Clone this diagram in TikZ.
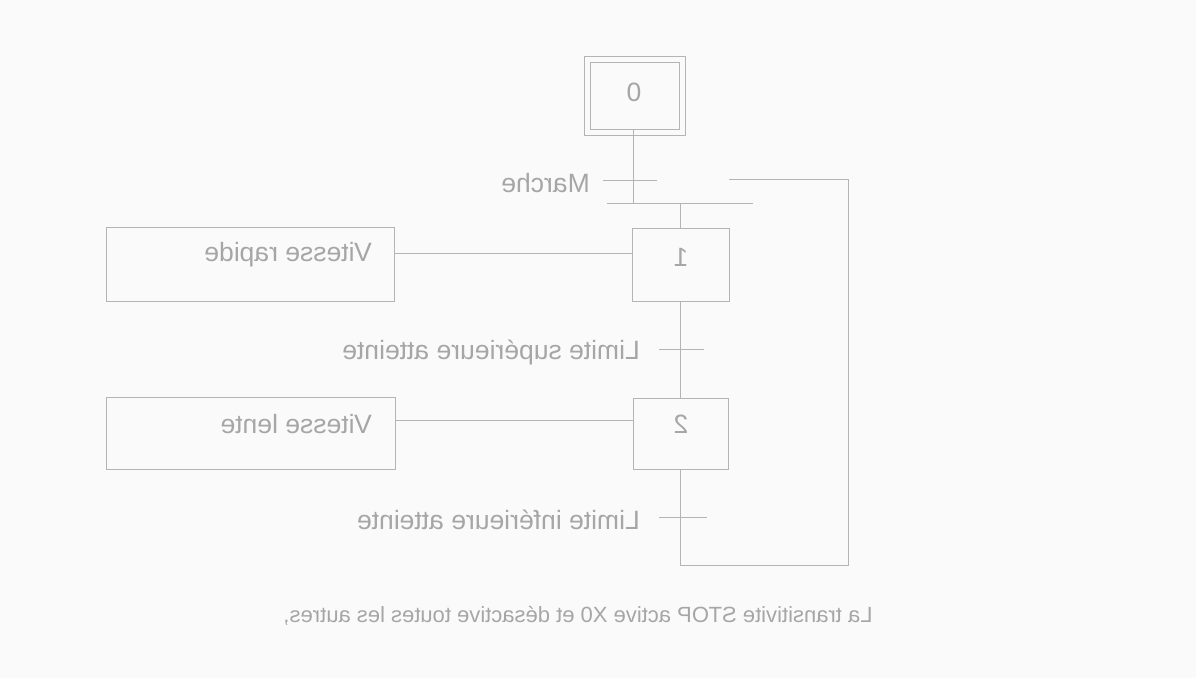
\documentclass[tikz,border=0pt]{standalone}
\usepackage{fontspec}
\setmainfont{Liberation Sans}
\definecolor{ln}{HTML}{B4B4B4}
\definecolor{tx}{HTML}{A6A6A6}
\definecolor{bg}{HTML}{FAFAFA}
\begin{document}
\begin{tikzpicture}[x=1bp,y=-1bp,
  box/.style={draw=ln,line width=1bp,inner sep=0pt,minimum width=#1},
  lbl/.style={text=tx,inner sep=0pt,font=\fontsize{26.5bp}{30bp}\selectfont},
  wire/.style={draw=ln,line width=1bp}]
\fill[bg] (0,0) rectangle (1196,678);
\useasboundingbox (0,0) rectangle (1196,678);
% steps
\node[box=101bp,minimum height=79bp] (s0) at (634.5,96.5) {};
\node[box=89bp,minimum height=67bp] (s0in) at (634.5,96.5) {};
\node[lbl] (n0) at (634,92) {\reflectbox{0}};
\node[box=97bp,minimum height=72bp] (s1) at (680.5,265) {};
\node[lbl] (n1) at (681,257) {\reflectbox{1}};
\node[box=95bp,minimum height=71bp] (s2) at (680.5,433.5) {};
\node[lbl] (n2) at (681,424) {\reflectbox{2}};
% actions
\node[box=287bp,minimum height=73bp] (a1) at (250.5,264.5) {};
\node[lbl,anchor=east] (a1t) at (372,255) {\reflectbox{Vitesse rapide}};
\node[box=288bp,minimum height=72bp] (a2) at (251,433) {};
\node[lbl,anchor=east] (a2t) at (372,424) {\reflectbox{Vitesse lente}};
% coordinates
\coordinate (bL) at (607,204);
\coordinate (bR) at (753,204);
\coordinate (t0) at (633,181);
\coordinate (t1) at (680.5,349);
\coordinate (t2) at (680.5,517);
\coordinate (y1) at (0,253);
\coordinate (y2) at (0,420);
\coordinate (r1) at (848,565);
\coordinate (r2) at (848,180);
\coordinate (r3) at (729,180);
% transition labels
\node[lbl,anchor=east] (m) at (590,183) {\reflectbox{Marche}};
\node[lbl,anchor=east] (ls) at (640,352) {\reflectbox{Limite supérieure atteinte}};
\node[lbl,anchor=east] (li) at (640,520) {\reflectbox{Limite inférieure atteinte}};
\node[lbl,font=\fontsize{22bp}{26bp}\selectfont] (bot) at (578,616) {\reflectbox{La transitivite STOP active X0 et désactive toutes les autres,}};
% links
\draw[wire] (s0in.south -| t0) -- (s0.south -| t0);
\draw[wire] (s0.south -| t0) -- (t0 |- bL);
\draw[wire] (bL) -- (bR);
\draw[wire] (s1.north |- bL) -- (s1.north);
\draw[wire] (s1.south) -- (s2.north);
\draw[wire] ([xshift=-30bp]t0) -- ([xshift=24bp]t0);
\draw[wire] ([xshift=-22bp]t1) -- ([xshift=23bp]t1);
\draw[wire] ([xshift=-22bp]t2) -- ([xshift=26bp]t2);
\draw[wire] (a1.east |- y1) -- (s1.west |- y1);
\draw[wire] (a2.east |- y2) -- (s2.west |- y2);
\draw[wire] (s2.south) -- (s2.south |- r1) -- (r1) -- (r2) -- (r3);
\end{tikzpicture}
\end{document}
